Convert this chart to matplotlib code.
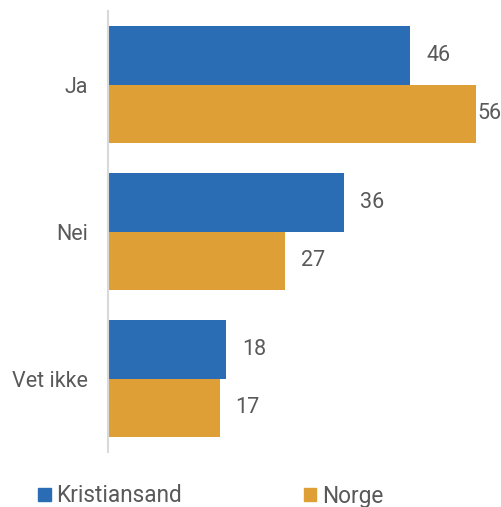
import matplotlib.pyplot as plt
from matplotlib.patches import Patch
import numpy as np

plt.rcParams['font.family'] = ['Roboto', 'DejaVu Sans']

kategorier = ["Ja", "Nei", "Vet ikke"]
kristiansand = [46, 36, 18]
norge = [56, 27, 17]
serier = ["Kristiansand", "Norge"]

BLA = "#2b6db5"
ORANSJE = "#df9f37"
TEKST = "#595959"

fig = plt.figure(figsize=(5.02, 5.07), dpi=100)
# akse fra x=108 til 502 px, y fra 11 til 452 px
ax = fig.add_axes([108 / 502, 1 - 452 / 507, 394 / 502, 441 / 507])

y = np.arange(len(kategorier))
h = 0.4
b1 = ax.barh(y - h / 2, kristiansand, height=h, color=BLA)
b2 = ax.barh(y + h / 2, norge, height=h, color=ORANSJE)

ax.set_xlim(0, 60)
ax.set_ylim(2.5, -0.5)

for bars, verdier in [(b1, kristiansand), (b2, norge)]:
    for bar, v in zip(bars, verdier):
        off = 1.5 if v >= 55 else 11.5
        ax.annotate(str(v), (bar.get_width(), bar.get_y() + bar.get_height() / 2),
                    xytext=(off, 0), textcoords="offset points",
                    va="center", ha="left", fontsize=15.5, color=TEKST,
                    annotation_clip=False)

ax.set_yticks(y)
ax.set_yticklabels(kategorier, fontsize=15.5, color=TEKST)
ax.tick_params(axis="y", length=0, pad=14.5)
ax.set_xticks([])
for s in ["top", "right", "bottom"]:
    ax.spines[s].set_visible(False)
ax.spines["left"].set_color("#d9d9d9")
ax.spines["left"].set_linewidth(1.5)

handles = [Patch(color=BLA, label=serier[0]), Patch(color=ORANSJE, label=serier[1])]
fig.legend(handles=handles, loc="center left", bbox_to_anchor=(27 / 502, 1 - 496 / 507),
           ncol=2, frameon=False, fontsize=16.3, labelcolor=TEKST, borderpad=0,
           handlelength=0.55, handleheight=0.55, handletextpad=0.23, columnspacing=5.4)

fig.savefig("out.png", dpi=100)
